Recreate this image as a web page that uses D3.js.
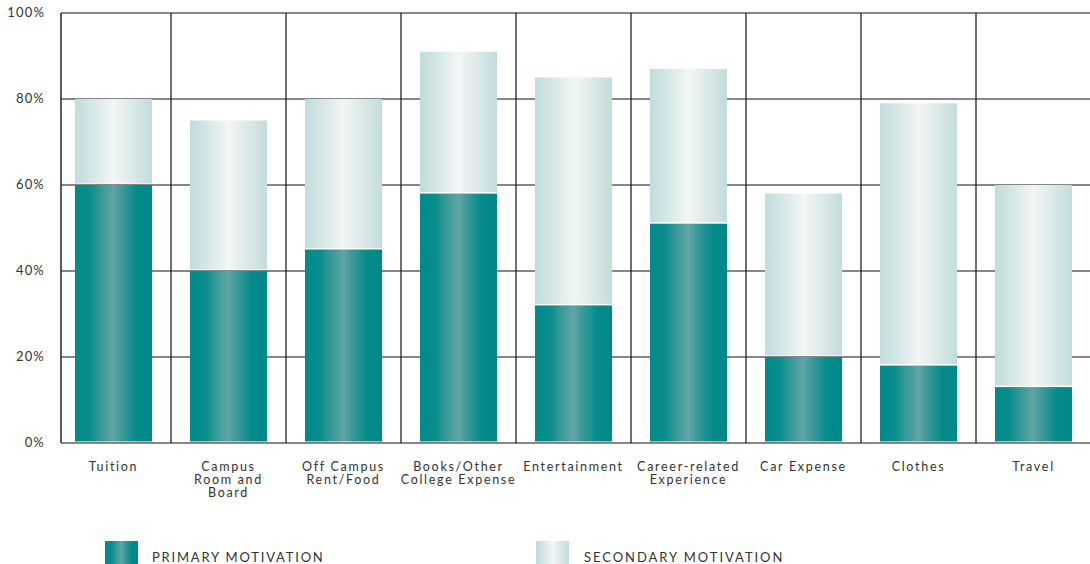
<!DOCTYPE html>
<html>
<head>
<meta charset="utf-8">
<script src="https://cdn.jsdelivr.net/npm/d3@7/dist/d3.min.js"></script>
<style>
  html, body { margin: 0; padding: 0; background: #fff; }
  svg text { font-family: Lato, "Open Sans", sans-serif; fill: #333; }
</style>
</head>
<body>
<svg id="chart" width="1090" height="564"></svg>
<script>
// Spending categories (multi-line labels split on "\n")
const categories = [
  "Tuition",
  "Campus\nRoom and\nBoard",
  "Off Campus\nRent/Food",
  "Books/Other\nCollege Expense",
  "Entertainment",
  "Career-related\nExperience",
  "Car Expense",
  "Clothes",
  "Travel"
];
// Percent of respondents citing each category
const primary   = [60, 40, 45, 58, 32, 51, 20, 18, 13];
const secondary = [20, 35, 35, 33, 53, 36, 38, 61, 47];
const yTicks = [0, 20, 40, 60, 80, 100];
const seriesNames = ["PRIMARY MOTIVATION", "SECONDARY MOTIVATION"];

const svg = d3.select("#chart");
const defs = svg.append("defs");

// Cylindrical shading for the bars
function cylinder(id, stops) {
  const g = defs.append("linearGradient").attr("id", id)
    .attr("x1", "0%").attr("x2", "100%").attr("y1", "0%").attr("y2", "0%");
  stops.forEach(([o, c]) => g.append("stop").attr("offset", o).attr("stop-color", c));
}
cylinder("gradPrimary", [
  [0, "#008a8a"], [0.2, "#0a8d8d"], [0.3, "#2e9595"], [0.5, "#62a5a5"],
  [0.6, "#3f9a9a"], [0.8, "#058b8b"], [1, "#008787"]
]);
cylinder("gradSecondary", [
  [0, "#c1dcdc"], [0.25, "#d7e8e7"], [0.5, "#f3f6f5"],
  [0.75, "#dbe9e8"], [1, "#c2dcdc"]
]);

const x = d3.scaleBand().domain(d3.range(categories.length))
  .range([56, 1091]).paddingInner(0.33).paddingOuter(0.165);
const y = d3.scaleLinear().domain([0, 100]).range([443, 13]);

const axisLeft = 61, rightEdge = 1090;
const step = x.step();

// Horizontal gridlines
svg.append("g").selectAll("line").data(yTicks).join("line")
  .attr("x1", axisLeft).attr("x2", rightEdge)
  .attr("y1", d => y(d)).attr("y2", d => y(d))
  .attr("stroke", "#111").attr("stroke-width", 1.2);

// Vertical dividers between categories
svg.append("g").selectAll("line").data(d3.range(1, categories.length)).join("line")
  .attr("x1", i => x(i) - (step - x.bandwidth()) / 2)
  .attr("x2", i => x(i) - (step - x.bandwidth()) / 2)
  .attr("y1", y(100)).attr("y2", y(0))
  .attr("stroke", "#111").attr("stroke-width", 1.2);

// Bars
const bars = svg.append("g");
const gap = 1.5;
categories.forEach((c, i) => {
  const bx = x(i), bw = x.bandwidth();
  bars.append("rect")
    .attr("x", bx).attr("width", bw)
    .attr("y", y(primary[i])).attr("height", y(0) - y(primary[i]) - gap)
    .attr("fill", "url(#gradPrimary)");
  const top = primary[i] + secondary[i];
  bars.append("rect")
    .attr("x", bx).attr("width", bw)
    .attr("y", y(top)).attr("height", y(primary[i]) - y(top) - gap)
    .attr("fill", "url(#gradSecondary)");
});

// Left axis line
svg.append("line")
  .attr("x1", axisLeft).attr("x2", axisLeft)
  .attr("y1", y(100)).attr("y2", y(0))
  .attr("stroke", "#333").attr("stroke-width", 1.6);

// Y tick labels
svg.append("g").selectAll("text").data(yTicks).join("text")
  .attr("x", 45).attr("y", d => y(d) + 4)
  .attr("text-anchor", "end")
  .attr("font-size", 13).attr("letter-spacing", "1.2px")
  .text(d => d + "%");

// Category labels
const labels = svg.append("g");
categories.forEach((c, i) => {
  const t = labels.append("text")
    .attr("x", x(i) + x.bandwidth() / 2)
    .attr("y", 471)
    .attr("text-anchor", "middle")
    .attr("font-size", 12.5).attr("letter-spacing", "1.7px");
  c.split("\n").forEach((line, k) => {
    t.append("tspan").attr("x", x(i) + x.bandwidth() / 2)
      .attr("dy", k === 0 ? 0 : 13).text(line);
  });
});

// Legend
const legend = [
  { name: seriesNames[0], fill: "url(#gradPrimary)", sx: 105, tx: 152, ls: "1.8px" },
  { name: seriesNames[1], fill: "url(#gradSecondary)", sx: 536, tx: 584, ls: "1.95px" }
];
legend.forEach(l => {
  svg.append("rect").attr("x", l.sx).attr("y", 541).attr("width", 33).attr("height", 30)
    .attr("fill", l.fill);
  svg.append("text").attr("x", l.tx).attr("y", 562)
    .attr("font-size", 13).attr("letter-spacing", l.ls)
    .text(l.name);
});
</script>
</body>
</html>
